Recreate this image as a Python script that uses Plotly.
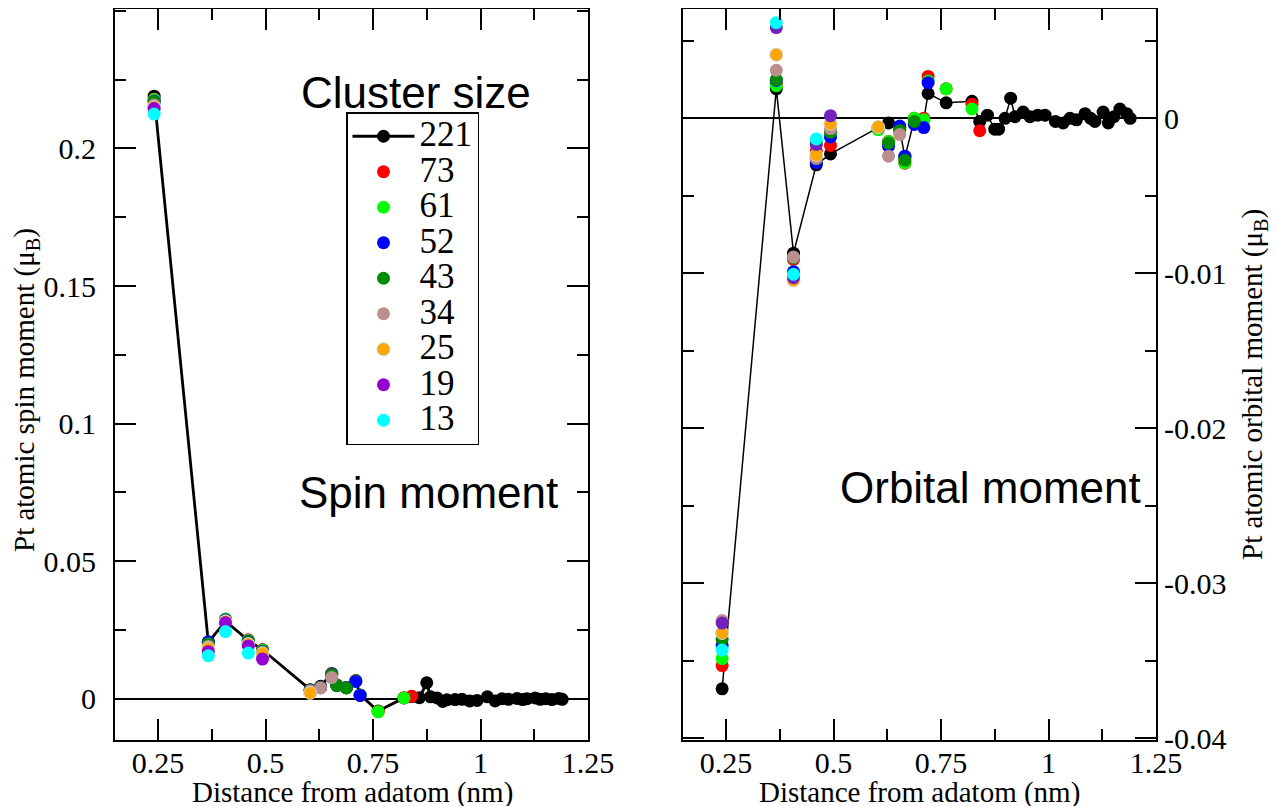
import plotly.graph_objects as go

# ---------------- data ----------------
clusters = ["221", "73", "61", "52", "43", "34", "25", "19", "13"]
colors_spin = ["#000000", "#ff0000", "#00ff00", "#0000ff", "#008b00", "#bc8f8f", "#ffa500", "#9400d3", "#00ffff"]
colors_orb = ["#000000", "#ff0000", "#00ff00", "#0000ff", "#008b00", "#bc8f8f", "#ffa500", "#7221bc", "#00ffff"]

# shell distances (nm) common to all clusters
shells = [0.241, 0.367, 0.407, 0.460, 0.493, 0.604, 0.628, 0.654, 0.666, 0.688,
          0.710, 0.720, 0.762, 0.822, 0.840]
# additional shells present only in the 221-atom cluster
far_shells = [0.858, 0.875, 0.884, 0.899, 0.912, 0.922, 0.941, 0.957, 0.975, 0.992,
              1.016, 1.034, 1.050, 1.065, 1.085, 1.098, 1.108, 1.127, 1.139, 1.152,
              1.166, 1.182, 1.190]

# spin moments (muB)
spin_221 = [0.2190, 0.0205, 0.0282, 0.0212, 0.0178, 0.0033, 0.0045, 0.0092, 0.0050, 0.0040,
            0.0066, 0.0014, -0.0045, 0.0003, 0.0008]
spin_221_far = [0.0004, 0.0058, 0.0007, 0.0003, -0.0010, -0.0004, -0.0003, -0.0002, -0.0008, -0.0006,
                0.0007, -0.0008, 0.0000, -0.0002, 0.0001, -0.0003, 0.0000, 0.0003, -0.0002, 0.0000,
                -0.0003, 0.0001, -0.0002]
spin_73 = [0.2180, 0.0205, 0.0285, 0.0214, 0.0178, 0.0032, 0.0042, 0.0090, 0.0050, 0.0041,
           0.0065, 0.0013, -0.0046, 0.0004, 0.0009]
spin_61 = [0.2178, 0.0203, 0.0290, 0.0212, 0.0176, 0.0031, 0.0041, 0.0089, 0.0049, 0.0040,
           0.0064, 0.0013, -0.0047, 0.0003]
spin_52 = [0.2172, 0.0207, 0.0287, 0.0208, 0.0172, 0.0031, 0.0041, 0.0088, 0.0048, 0.0040,
           0.0063, 0.0012]
spin_43 = [0.2170, 0.0200, 0.0285, 0.0205, 0.0170, 0.0030, 0.0040, 0.0086, 0.0048, 0.0039]
spin_34 = [0.2158, 0.0190, 0.0283, 0.0200, 0.0167, 0.0028, 0.0039, 0.0077]
spin_25 = [0.2150, 0.0183, 0.0280, 0.0198, 0.0165, 0.0021]
spin_19 = [0.2145, 0.0171, 0.0276, 0.0192, 0.0144]
spin_13 = [0.2125, 0.0156, 0.0244, 0.0166]

# orbital moments (muB)
orb_221 = [-0.0368, 0.0019, -0.0087, -0.0030, -0.0023, -0.0006, -0.0003, -0.0007, -0.0025, -0.0001,
           -0.0001, 0.0016, 0.0010, 0.0011, -0.0002]
orb_221_far = [0.0002, -0.0007, -0.0007, 0.0000, 0.0013, 0.0001, 0.0004, 0.0001, 0.0002, 0.0002,
               -0.0002, -0.0003, 0.0000, -0.0001, 0.0003, 0.0000, -0.0002, 0.0004, -0.0003, 0.0001,
               0.0006, 0.0003, 0.0000]
orb_73 = [-0.0353, 0.0022, -0.0091, -0.0021, -0.00175, -0.0007, -0.0015, -0.0006, -0.0029, 0.0000,
          0.0000, 0.0027, 0.0019, 0.0009, -0.0008]
orb_61 = [-0.03485, 0.0021, -0.0099, -0.0016, -0.0012, -0.00073, -0.0015, -0.0006, -0.00286, 0.0000,
          -0.0001, 0.0024, 0.0019, 0.0006]
orb_52 = [-0.0340, 0.00244, -0.0099, -0.00286, -0.0012, -0.0006, -0.0018, -0.0005, -0.00244, -0.0004,
          -0.0006, 0.0023]
orb_43 = [-0.0336, 0.0025, -0.0090, -0.0026, -0.0009, -0.0006, -0.0016, -0.0008, -0.0027, -0.0002]
orb_34 = [-0.0324, 0.0031, -0.00895, -0.00258, -0.00066, -0.0006, -0.00244, -0.00105]
orb_25 = [-0.0332, 0.0041, -0.01045, -0.00237, -0.00036, -0.00056]
orb_19 = [-0.03256, 0.00585, -0.01028, -0.00169, 0.00017]
orb_13 = [-0.0343, 0.00617, -0.01006, -0.00133]

spin_sets = [spin_221 + spin_221_far, spin_73, spin_61, spin_52, spin_43, spin_34, spin_25, spin_19, spin_13]
orb_sets = [orb_221 + orb_221_far, orb_73, orb_61, orb_52, orb_43, orb_34, orb_25, orb_19, orb_13]

x_ticks = [0.25, 0.5, 0.75, 1.0, 1.25]
x_ticktext = ["0.25", "0.5", "0.75", "1", "1.25"]
y1_ticks = [0, 0.05, 0.1, 0.15, 0.2]
y1_ticktext = ["0", "0.05", "0.1", "0.15", "0.2"]
y2_ticks = [0, -0.01, -0.02, -0.03, -0.04]
y2_ticktext = ["0", "-0.01", "-0.02", "-0.03", "-0.04"]

# ---------------- figure ----------------
SERIF = "Liberation Serif"
SANS = "Liberation Sans"
all_x = shells + far_shells

fig = go.Figure()
for i, name in enumerate(clusters):
    ys = spin_sets[i]
    xs = all_x[:len(ys)]
    is_main = (i == 0)
    mline = dict(width=1, color="#d0d0d0") if name == "25" else dict(width=0)
    fig.add_trace(go.Scatter(
        x=xs, y=ys, xaxis="x", yaxis="y",
        mode="lines+markers" if is_main else "markers",
        line=dict(color="black", width=2.8),
        marker=dict(color=colors_spin[i], size=13, line=mline),
        name='<span style="font-size:35px">' + name + '</span>',
        showlegend=True,
    ))
for i, name in enumerate(clusters):
    ys = orb_sets[i]
    xs = all_x[:len(ys)]
    is_main = (i == 0)
    mline = dict(width=1, color="#d0d0d0") if name == "25" else dict(width=0)
    fig.add_trace(go.Scatter(
        x=xs, y=ys, xaxis="x2", yaxis="y2",
        mode="lines+markers" if is_main else "markers",
        line=dict(color="black", width=1.5),
        marker=dict(color=colors_orb[i], size=13, line=mline),
        name=name, showlegend=False,
    ))

# page offset (the page body adds an 8px margin)
OFF = 8
W, H = 1277 - OFF, 806 - OFF
ml, mr, mt, mb = 107, 121, 1, 66
pw = W - ml - mr
ph = H - mt - mb


def px2paper_x(px):
    return (px - OFF - ml) / pw


def px2paper_y(py):
    return 1 - (py - OFF - mt) / ph


minor_common = dict(ticks="inside", ticklen=11, tickwidth=1.5, tickcolor="black", showgrid=False)
axis_common = dict(
    showline=True, linecolor="black", linewidth=2, mirror="allticks",
    ticks="inside", ticklen=21, tickwidth=1.5, tickcolor="black",
    showgrid=False, zeroline=False,
    tickfont=dict(family=SERIF, size=30, color="black"),
)

fig.update_layout(
    width=W, height=H,
    margin=dict(l=ml, r=mr, t=mt, b=mb, autoexpand=False),
    plot_bgcolor="white", paper_bgcolor="white",
    xaxis=dict(domain=[0, px2paper_x(588)], range=[0.15, 1.25], anchor="y",
               tickmode="array", tickvals=x_ticks, ticktext=x_ticktext, ticklabelstandoff=-5,
               minor=dict(minor_common, tickmode="linear", tick0=0.125, dtick=0.25),
               **axis_common),
    xaxis2=dict(domain=[px2paper_x(683), 1], range=[0.15, 1.25], anchor="y2",
                tickmode="array", tickvals=x_ticks, ticktext=x_ticktext, ticklabelstandoff=-5,
                minor=dict(minor_common, tickmode="linear", tick0=0.125, dtick=0.25),
                **axis_common),
    yaxis=dict(domain=[0, 1], range=[-0.015, 0.2507], anchor="x",
               tickmode="array", tickvals=y1_ticks, ticktext=y1_ticktext, ticklabelstandoff=11,
               minor=dict(minor_common, tickmode="linear", tick0=0, dtick=0.025),
               **{**axis_common, "zeroline": True, "zerolinecolor": "black", "zerolinewidth": 1.5}),
    yaxis2=dict(domain=[0, 1], range=[-0.0401, 0.00705], anchor="x2", side="right",
                tickmode="array", tickvals=y2_ticks, ticktext=y2_ticktext,
                minor=dict(minor_common, tickmode="linear", tick0=0, dtick=0.005),
                **{**axis_common, "zeroline": True, "zerolinecolor": "black", "zerolinewidth": 2}),
    legend=dict(x=px2paper_x(346), y=px2paper_y(112), xanchor="left", yanchor="top",
                bgcolor="white", bordercolor="black", borderwidth=1.5,
                font=dict(family=SERIF, size=25, color="black"), itemwidth=62,
                tracegroupgap=0),
)

title_font = dict(family=SERIF, size=29, color="black")
label_font = dict(family=SANS, size=44, color="black")
annotations = [
    # axis titles
    dict(text="Distance from adatom (nm)", x=px2paper_x(352), y=px2paper_y(792), font=title_font),
    dict(text="Distance from adatom (nm)", x=px2paper_x(919), y=px2paper_y(792), font=title_font),
    dict(text="Pt atomic spin moment (μ<sub>B</sub>)", x=px2paper_x(26), y=px2paper_y(390),
         textangle=-90, font=title_font),
    dict(text="Pt atomic orbital moment (μ<sub>B</sub>)", x=px2paper_x(1254), y=px2paper_y(385),
         textangle=-90, font=title_font),
    # panel labels
    dict(text="Cluster size", x=px2paper_x(416), y=px2paper_y(92), font=label_font),
    dict(text="Spin moment", x=px2paper_x(428), y=px2paper_y(492), font=label_font),
    dict(text="Orbital moment", x=px2paper_x(990), y=px2paper_y(487), font=label_font),
]
for a in annotations:
    a.update(xref="paper", yref="paper", showarrow=False, xanchor="center", yanchor="middle")
fig.update_layout(annotations=annotations)

fig.write_html("out.html")
